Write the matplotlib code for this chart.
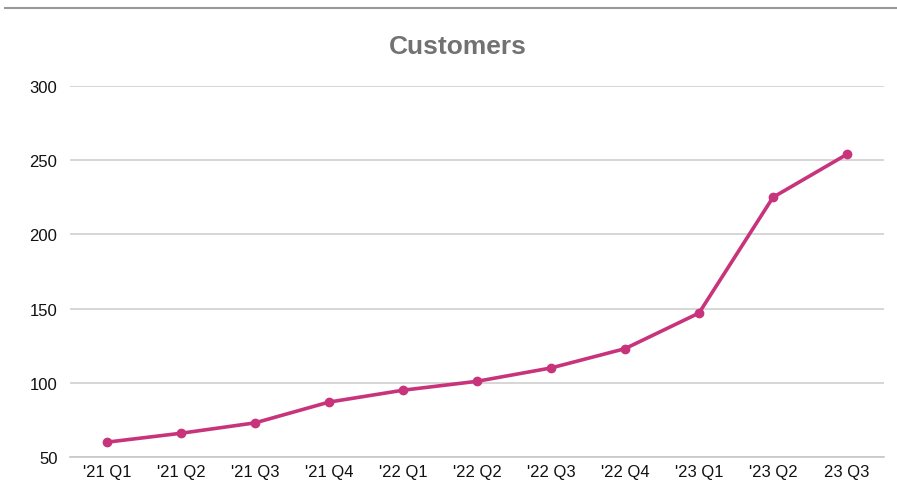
import matplotlib
matplotlib.use("Agg")
import matplotlib.pyplot as plt
from matplotlib.lines import Line2D

quarters = ["'21 Q1", "'21 Q2", "'21 Q3", "'21 Q4", "'22 Q1", "'22 Q2",
            "'22 Q3", "'22 Q4", "'23 Q1", "'23 Q2", "23 Q3"]
customers = [60, 66, 73, 87, 95, 101, 110, 123, 147, 225, 254]
yticks = [50, 100, 150, 200, 250, 300]

plt.rcParams['font.family'] = ['Liberation Sans', 'DejaVu Sans']

fig = plt.figure(figsize=(8.97, 4.85), dpi=100)
ax = fig.add_axes([70/897, 27/485, 814/897, 371/485])

x = list(range(len(quarters)))
ax.plot(x, customers, color='#c8347b', linewidth=2.6, marker='o',
        markersize=6, solid_capstyle='round', zorder=3)

ax.set_xlim(-0.5, len(quarters) - 0.5)
ax.set_ylim(50, 300)
ax.set_yticks(yticks)
ax.set_xticks(x)
ax.set_xticklabels(quarters)
ax.grid(axis='y', color='#d0d0d0', linewidth=1.2)
ax.set_axisbelow(True)
for s in ['top', 'right', 'left']:
    ax.spines[s].set_visible(False)
ax.spines['bottom'].set_color('#c8c8c8')
ax.spines['bottom'].set_linewidth(1.2)
ax.tick_params(axis='both', length=0, labelsize=12, colors='#111111')
ax.tick_params(axis='y', pad=9)
ax.tick_params(axis='x', pad=5)

fig.text(458/897, 1 - 47/485, 'Customers', ha='center', va='center',
         fontsize=19, fontweight='bold', color='#727272')
fig.add_artist(Line2D([5/897, 1], [1 - 9/485, 1 - 9/485], color='#999999',
                      linewidth=1.5, transform=fig.transFigure))

fig.savefig('out.png', dpi=100)
